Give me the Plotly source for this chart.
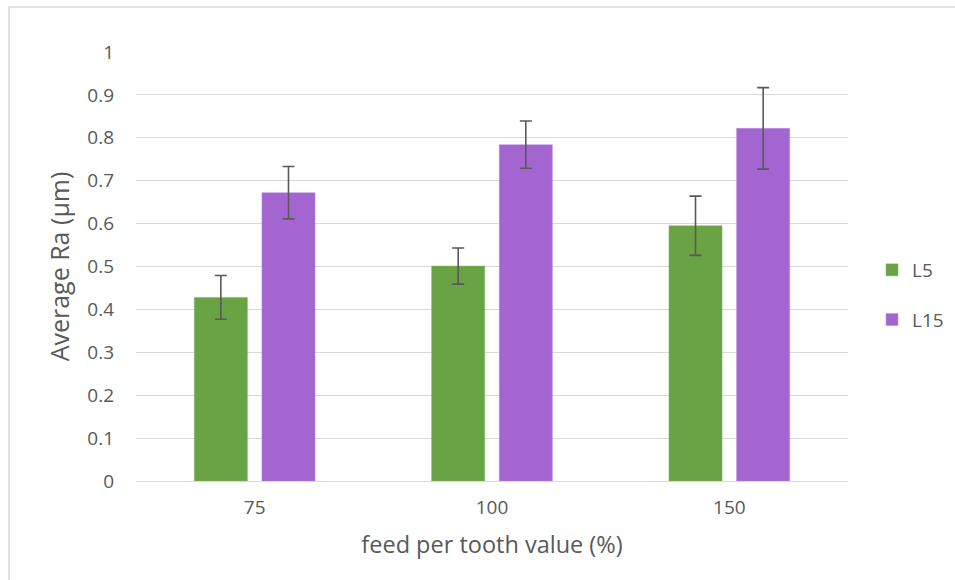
import plotly.graph_objects as go

categories = ["75", "100", "150"]
l5_values = [0.428, 0.501, 0.595]
l5_errors = [0.051, 0.042, 0.069]
l15_values = [0.672, 0.784, 0.822]
l15_errors = [0.061, 0.055, 0.095]
y_ticks = [0, 0.1, 0.2, 0.3, 0.4, 0.5, 0.6, 0.7, 0.8, 0.9, 1]
y_tick_labels = ["0", "0.1", "0.2", "0.3", "0.4", "0.5", "0.6", "0.7", "0.8", "0.9", "1"]

FONT = "Open Sans"
TXT = "#595959"

err_style = dict(type="data", visible=True, color="#595959", thickness=1.6, width=6)

fig = go.Figure()
fig.add_trace(go.Bar(
    name="L5", x=categories, y=l5_values, legendgroup="a",
    error_y=dict(array=l5_errors, **err_style),
    marker=dict(color="#6aa343", line=dict(color="#7db85a", width=0.5)),
))
fig.add_trace(go.Bar(
    name="L15", x=categories, y=l15_values, legendgroup="b",
    error_y=dict(array=l15_errors, **err_style),
    marker=dict(color="#a366d1", line=dict(color="#b98ade", width=0.5)),
))

fig.update_layout(
    width=955, height=580,
    margin=dict(l=136, r=107, t=52, b=99, autoexpand=False),
    paper_bgcolor="white", plot_bgcolor="white",
    barmode="group", bargap=0.43, bargroupgap=0.215,
    font=dict(family=FONT, size=19, color=TXT),
    showlegend=True,
    legend=dict(x=(872 - 136) / 712, y=(481 - 295) / 429, yanchor="middle", xanchor="left",
                traceorder="grouped",
                font=dict(size=19, color=TXT), tracegroupgap=22,
                itemwidth=30, bgcolor="rgba(0,0,0,0)"),
    xaxis=dict(type="category", showgrid=False, showline=True, linecolor="#d9d9d9",
               linewidth=1, ticks="", ticklabelstandoff=9,
               tickfont=dict(size=19, color=TXT),
               title=dict(text="feed per tooth value (%)", font=dict(size=23.5, color=TXT), standoff=17)),
    yaxis=dict(range=[0, 1], tickvals=y_ticks, ticktext=y_tick_labels,
               showgrid=True, gridcolor="#d9d9d9", gridwidth=1,
               zeroline=False, showline=False, ticks="", ticklabelstandoff=21,
               tickfont=dict(size=19, color=TXT),
               title=dict(text="Average Ra (µm)", font=dict(size=25, color=TXT), standoff=10)),
    shapes=[dict(type="rect", xref="paper", yref="paper",
                 x0=(9 - 136) / 712, x1=1.3, y0=-0.4, y1=(481 - 7) / 429,
                 line=dict(color="#d9d9d9", width=1.5), fillcolor="rgba(0,0,0,0)", layer="below")],
)

fig.write_html("out.html", config={"displayModeBar": False},
               post_script="document.body.style.margin='0';")
